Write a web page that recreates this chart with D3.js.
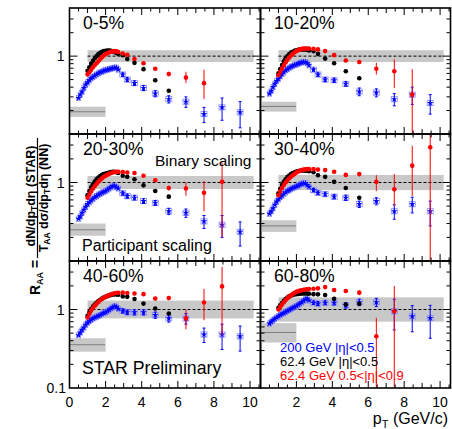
<!DOCTYPE html>
<html><head><meta charset="utf-8">
<script src="https://cdn.jsdelivr.net/npm/d3@7"></script>
<style>
body{margin:0;background:#fff}
text{font-family:"Liberation Sans",Arial,Helvetica,sans-serif}
</style>
</head><body>
<svg id="chart" width="452" height="429"></svg>
<script>
// ---------------- data ----------------
const centralities = ["0-5%","10-20%","20-30%","30-40%","40-60%","60-80%"];
const ptBlueLow = [0.5,0.6,0.7,0.8,0.9,1.0,1.1,1.2,1.3,1.4,1.5,1.6,1.7,1.8,1.9,2.0,2.1,2.2,2.3,2.4,2.5,2.6,2.7];
const ptRBLow = [1.0,1.1,1.2,1.3,1.4,1.5,1.6,1.7,1.8,1.9,2.0,2.1,2.2,2.3,2.4,2.5,2.6,2.7];
const ptHigh = [2.95,3.2,3.6,4.1,4.75,5.5,6.45,7.45,8.45,9.45];

// 200 GeV |eta|<0.5 (blue stars)
const blueLow = [
 [0.29,0.32,0.35,0.39,0.43,0.46,0.49,0.52,0.54,0.56,0.58,0.60,0.62,0.63,0.65,0.66,0.67,0.68,0.69,0.70,0.71,0.71,0.67],
 [0.33,0.36,0.40,0.44,0.48,0.51,0.55,0.59,0.62,0.66,0.68,0.71,0.73,0.75,0.77,0.78,0.80,0.82,0.83,0.84,0.84,0.81,0.76],
 [0.345,0.37,0.41,0.45,0.49,0.53,0.56,0.59,0.62,0.65,0.67,0.70,0.72,0.74,0.76,0.78,0.81,0.84,0.87,0.90,0.91,0.87,0.84],
 [0.40,0.43,0.47,0.52,0.57,0.61,0.65,0.68,0.72,0.75,0.78,0.80,0.83,0.85,0.87,0.89,0.91,0.94,0.96,0.98,0.98,0.93,0.88],
 [0.47,0.51,0.55,0.59,0.64,0.68,0.71,0.74,0.77,0.79,0.81,0.83,0.85,0.88,0.90,0.92,0.95,0.99,1.03,1.07,1.10,1.08,1.02],
 [0.66,0.70,0.73,0.76,0.79,0.82,0.85,0.88,0.90,0.93,0.96,0.99,1.02,1.05,1.08,1.11,1.15,1.19,1.24,1.29,1.35,1.38,1.30]
];
const blueHigh = [
 [0.58,0.50,0.45,0.39,0.33,0.28,0.26,0.18,0.22,0.19],
 [0.67,0.58,0.50,0.49,0.44,0.35,0.34,0.28,0.32,0.25],
 [0.73,0.67,0.64,0.58,0.55,0.43,0.41,0.32,0.29,0.235],
 [0.80,0.74,0.71,0.66,0.64,0.53,0.58,0.43,0.53,0.43],
 [0.96,0.92,0.92,0.92,0.85,0.77,0.77,0.48,0.48,0.455],
 [1.22,1.19,1.22,1.22,1.13,1.24,1.24,0.95,0.82,0.78]
];
const blueHighErr = [
 [0.03,0.03,0.03,0.03,0.03,0.03,0.04,0.04,0.07,0.07],
 [0.03,0.03,0.03,0.03,0.03,0.04,0.04,0.05,0.08,0.07],
 [0.04,0.04,0.04,0.04,0.04,0.04,0.05,0.06,0.09,0.08],
 [0.04,0.04,0.04,0.04,0.05,0.05,0.06,0.09,0.12,0.15],
 [0.06,0.06,0.07,0.07,0.08,0.08,0.12,0.10,0.17,0.16],
 [0.06,0.07,0.07,0.08,0.09,0.12,0.15,0.40,0.30,0.35]
];
// 62.4 GeV |eta|<0.5 (black circles)
const blackLow = [
 [0.65,0.72,0.80,0.87,0.94,1.00,1.06,1.10,1.14,1.16,1.17,1.18,1.18,1.17,1.15,1.13,1.10,1.07],
 [0.60,0.68,0.77,0.86,0.94,1.00,1.06,1.11,1.14,1.17,1.19,1.21,1.22,1.22,1.22,1.22,1.21,1.18],
 [0.69,0.78,0.87,0.95,1.03,1.10,1.16,1.21,1.25,1.28,1.30,1.32,1.34,1.36,1.37,1.37,1.35,1.32],
 [0.73,0.83,0.93,1.02,1.10,1.17,1.23,1.28,1.32,1.35,1.38,1.40,1.41,1.42,1.42,1.41,1.41,1.39],
 [0.83,0.92,1.01,1.09,1.16,1.22,1.28,1.33,1.38,1.42,1.45,1.48,1.51,1.53,1.55,1.56,1.56,1.54],
 [1.05,1.13,1.21,1.29,1.36,1.42,1.47,1.51,1.54,1.56,1.57,1.58,1.59,1.60,1.60,1.60,1.60,1.59]
];
const blackHigh = [
 [1.03,0.92,0.82,0.68,0.49,0.36],
 [1.16,1.07,0.93,0.81,0.64,0.52],
 [1.22,1.18,1.10,0.92,0.78,0.66],
 [1.35,1.24,1.18,1.02,0.85,0.64],
 [1.47,1.45,1.36,1.19,1.03,0.89],
 [1.57,1.56,1.53,1.37,1.16,1.18]
];
// 62.4 GeV 0.5<|eta|<0.9 (red circles)
const redLow = [
 [0.58,0.62,0.67,0.72,0.77,0.81,0.86,0.92,0.97,1.02,1.06,1.09,1.12,1.14,1.15,1.16,1.15,1.13],
 [0.57,0.63,0.69,0.76,0.83,0.90,0.96,1.02,1.07,1.12,1.16,1.19,1.22,1.24,1.25,1.25,1.25,1.25],
 [0.64,0.70,0.77,0.84,0.90,0.96,1.02,1.08,1.13,1.18,1.22,1.26,1.29,1.32,1.34,1.36,1.37,1.37],
 [0.69,0.77,0.85,0.93,1.00,1.07,1.13,1.19,1.24,1.29,1.34,1.38,1.41,1.44,1.46,1.47,1.48,1.48],
 [0.79,0.88,0.97,1.05,1.12,1.18,1.25,1.31,1.36,1.41,1.45,1.49,1.53,1.56,1.59,1.61,1.62,1.63],
 [1.00,1.08,1.16,1.24,1.32,1.39,1.46,1.52,1.58,1.63,1.68,1.71,1.74,1.76,1.78,1.80,1.81,1.82]
];
const redHigh = [
 [1.08,1.04,0.92,0.81,0.69,0.59,0.53,0.45,null,null],
 [1.24,1.22,1.16,1.03,0.88,0.84,0.69,0.64,0.32,null],
 [1.36,1.34,1.32,1.22,1.07,0.85,0.84,0.74,1.02,null],
 [1.48,1.46,1.44,1.37,1.25,1.28,1.02,0.82,1.64,2.81],
 [1.65,1.62,1.60,1.57,1.38,1.40,0.77,1.23,1.97,null],
 [1.84,1.86,1.93,1.77,1.72,1.64,0.455,0.95,null,null]
];
const redErrUp = [
 [0.03,0.03,0.03,0.03,0.03,0.04,0.10,0.22,null,null],
 [0.03,0.03,0.03,0.04,0.04,0.05,0.13,0.27,0.36,null],
 [0.03,0.03,0.03,0.04,0.05,0.06,0.16,0.31,0.78,null],
 [0.03,0.03,0.03,0.04,0.06,0.08,0.22,0.46,1.30,2.00],
 [0.04,0.04,0.04,0.05,0.07,0.09,0.23,0.60,1.50,null],
 [0.04,0.04,0.06,0.07,0.10,0.12,0.33,1.04,null,null]
];
const redErrDown = [
 [0.03,0.03,0.03,0.03,0.03,0.04,0.08,0.17,null,null],
 [0.03,0.03,0.03,0.04,0.04,0.05,0.11,0.25,0.32,null],
 [0.03,0.03,0.03,0.04,0.05,0.06,0.16,0.31,0.82,null],
 [0.03,0.03,0.03,0.04,0.06,0.08,0.24,0.32,0.97,2.80],
 [0.04,0.04,0.04,0.05,0.07,0.09,0.21,0.50,1.50,null],
 [0.04,0.04,0.06,0.07,0.10,0.12,0.40,0.95,null,null]
];
// scaling references
const binaryBandLo = [0.84,0.84,0.826,0.80,0.77,0.70];
const binaryBandHi = [1.19,1.19,1.21,1.25,1.30,1.43];
const participantLevel = [0.193,0.226,0.25,0.28,0.356,0.51];
const participantBandLo = [0.166,0.194,0.21,0.235,0.29,0.38];
const participantBandHi = [0.224,0.26,0.30,0.33,0.43,0.67];
const xTickLabels = [0,2,4,6,8,10];
const legendLabels = ["200 GeV |\u03b7|<0.5","62.4 GeV |\u03b7|<0.5","62.4 GeV 0.5<|\u03b7|<0.9"];
const legendColors = ["#0000ff","#000000","#ff0000"];

// ---------------- layout ----------------
const svg = d3.select("#chart");
const colX = [[69.5,260.5],[260.5,450.5]];
const rowY = [[8,134],[134,261],[261,388]];
const yDomain = [0.1,4.15];
const xDomain = [0,10.58];
const BLUE="#0000ff", RED="#ff0000";

const defs = svg.append("defs");

centralities.forEach((cent,i)=>{
  const col = i%2, row = Math.floor(i/2);
  const [x0,x1] = colX[col], [y0,y1] = rowY[row];
  const x = d3.scaleLinear().domain(xDomain).range([x0,x1]);
  const y = d3.scaleLog().domain(yDomain).range([y1,y0]);
  const cid = "clip"+i;
  defs.append("clipPath").attr("id",cid).append("rect")
    .attr("x",x0).attr("y",y0).attr("width",x1-x0).attr("height",y1-y0);
  const g = svg.append("g");
  const gc = g.append("g").attr("clip-path",`url(#${cid})`);

  // binary scaling band
  gc.append("rect").attr("x",x(1)).attr("width",x(10.2)-x(1))
    .attr("y",y(binaryBandHi[i])).attr("height",y(binaryBandLo[i])-y(binaryBandHi[i]))
    .attr("fill","#c8c8c8");
  gc.append("line").attr("x1",x(1)).attr("x2",x(10.2)).attr("y1",y(1)).attr("y2",y(1))
    .attr("stroke","#000").attr("stroke-width",1).attr("stroke-dasharray","3,2");
  // participant scaling band
  gc.append("rect").attr("x",x(0)).attr("width",x(2)-x(0))
    .attr("y",y(participantBandHi[i])).attr("height",y(participantBandLo[i])-y(participantBandHi[i]))
    .attr("fill","#c8c8c8");
  gc.append("line").attr("x1",x(0)).attr("x2",x(2)).attr("y1",y(participantLevel[i])).attr("y2",y(participantLevel[i]))
    .attr("stroke","#333").attr("stroke-width",1).attr("stroke-dasharray","1,1");

  // blue series
  const blue = ptBlueLow.map((p,k)=>({p,v:blueLow[i][k],e:0.02,low:true}))
    .concat(ptHigh.map((p,k)=>({p,v:blueHigh[i][k],e:blueHighErr[i][k],low:false})));
  // systematic boxes
  gc.selectAll(null).data(blue).join("rect")
    .attr("x",d=>x(d.p)-(d.low?2:3)).attr("width",d=>d.low?4:6)
    .attr("y",d=>y(d.v*1.08)).attr("height",d=>y(d.v/1.08)-y(d.v*1.08))
    .attr("fill","none").attr("stroke","#8c8cff").attr("stroke-width",0.8);
  gc.selectAll(null).data(blue.filter(d=>!d.low)).join("path")
    .attr("d",d=>{const a=y(d.v+d.e), b=y(Math.max(d.v-d.e,0.05)), xx=x(d.p);
      return `M${xx},${a}V${b}M${xx-1.5},${a}H${xx+1.5}M${xx-1.5},${b}H${xx+1.5}`;})
    .attr("stroke",BLUE).attr("stroke-width",1).attr("fill","none");
  gc.selectAll(null).data(blue).join("path")
    .attr("d",d3.symbol(d3.symbolStar,13)())
    .attr("transform",d=>`translate(${x(d.p)},${y(d.v)})`)
    .attr("fill",BLUE);

  // black series
  const black = ptRBLow.map((p,k)=>({p,v:blackLow[i][k]}))
    .concat(blackHigh[i].map((v,k)=>({p:ptHigh[k],v})));
  gc.selectAll(null).data(black).join("circle")
    .attr("cx",d=>x(d.p)).attr("cy",d=>y(d.v)).attr("r",2.3).attr("fill","#000");

  // red series
  const red = ptRBLow.map((p,k)=>({p,v:redLow[i][k],up:0,dn:0}))
    .concat(ptHigh.map((p,k)=>({p,v:redHigh[i][k],up:redErrUp[i][k],dn:redErrDown[i][k]})))
    .filter(d=>d.v!==null);
  gc.selectAll(null).data(red.filter(d=>d.up>0)).join("line")
    .attr("x1",d=>x(d.p)).attr("x2",d=>x(d.p))
    .attr("y1",d=>y(d.v+d.up)).attr("y2",d=>y(Math.max(d.v-d.dn,0.05)))
    .attr("stroke",RED).attr("stroke-width",1);
  gc.selectAll(null).data(red).join("circle")
    .attr("cx",d=>x(d.p)).attr("cy",d=>y(d.v)).attr("r",2.3).attr("fill",RED);

  // frame
  g.append("rect").attr("x",x0).attr("y",y0).attr("width",x1-x0).attr("height",y1-y0)
    .attr("fill","none").attr("stroke","#000").attr("stroke-width",1.6);

  // x ticks (bottom & top, inward)
  const xt = d3.range(0,10.51,0.5);
  xt.forEach(t=>{
    const len = (Math.abs(t%2)<1e-6)?7:(Math.abs(t%1)<1e-6?5:3.5);
    g.append("line").attr("x1",x(t)).attr("x2",x(t)).attr("y1",y1).attr("y2",y1-len).attr("stroke","#000").attr("stroke-width",1);
    g.append("line").attr("x1",x(t)).attr("x2",x(t)).attr("y1",y0).attr("y2",y0+len).attr("stroke","#000").attr("stroke-width",1);
  });
  // y ticks (left & right, inward)
  const yt = [0.2,0.3,0.4,0.5,0.6,0.7,0.8,0.9,1,2,3];
  yt.forEach(t=>{
    const len = t===1?8:4;
    g.append("line").attr("x1",x0).attr("x2",x0+len).attr("y1",y(t)).attr("y2",y(t)).attr("stroke","#000").attr("stroke-width",1);
    g.append("line").attr("x1",x1).attr("x2",x1-len).attr("y1",y(t)).attr("y2",y(t)).attr("stroke","#000").attr("stroke-width",1);
  });

  // y tick labels (left column)
  if(col===0){
    g.append("text").attr("x",64.5).attr("y",y(1)+5).attr("text-anchor","end")
      .attr("font-size",14).text("1");
    if(row===2) g.append("text").attr("x",66).attr("y",y(0.1)+5).attr("text-anchor","end")
      .attr("font-size",14).text("0.1");
  }
  // x tick labels (bottom row)
  if(row===2){
    xTickLabels.forEach(t=>{
      if(col===1 && t===0) return;
      g.append("text").attr("x",x(t)).attr("y",406.5).attr("text-anchor","middle")
        .attr("font-size",14).text(t);
    });
  }
  // centrality label
  g.append("text").attr("x",x0+13.5).attr("y",y0+20.5).attr("font-size",17.6).text(cent);
});

// annotations
svg.append("text").attr("x",155).attr("y",166).attr("font-size",15.5).text("Binary scaling");
svg.append("text").attr("x",82).attr("y",251).attr("font-size",16).text("Participant scaling");
svg.append("text").attr("x",82).attr("y",373.5).attr("font-size",17.7).text("STAR Preliminary");

// legend
legendLabels.forEach((l,k)=>{
  svg.append("text").attr("x",280).attr("y",351.5+k*14.3).attr("font-size",13)
    .attr("fill",legendColors[k]).text(l);
});

// x axis title
const xt = svg.append("text").attr("x",448).attr("y",424).attr("text-anchor","end").attr("font-size",16);
xt.append("tspan").text("p");
xt.append("tspan").attr("font-size",11).attr("dy",4).text("T");
xt.append("tspan").attr("dy",-4).text(" (GeV/c)");

// y axis title (rotated)
const yg = svg.append("g").attr("transform","translate(0,0) rotate(-90)");
// R_AA =
const r = yg.append("text").attr("x",-295).attr("y",40).attr("font-size",14).attr("font-weight","bold");
r.append("tspan").text("R");
r.append("tspan").attr("font-size",9).attr("dy",3).text("AA");
r.append("tspan").attr("dy",-3).text(" =");
// fraction
yg.append("line").attr("x1",-258).attr("x2",-138).attr("y1",37.5).attr("y2",37.5).attr("stroke","#000").attr("stroke-width",1.2);
const num = yg.append("text").attr("x",-196).attr("y",34.5).attr("text-anchor","middle").attr("font-size",12.5).attr("font-weight","bold");
num.append("tspan").text("dN/dp");
num.append("tspan").attr("font-size",8.5).attr("dy",2.5).text("T");
num.append("tspan").attr("dy",-2.5).text("d\u03b7 (STAR)");
const den = yg.append("text").attr("x",-198).attr("y",47.5).attr("text-anchor","middle").attr("font-size",12.5).attr("font-weight","bold");
den.append("tspan").text("T");
den.append("tspan").attr("font-size",8.5).attr("dy",2.5).text("AA");
den.append("tspan").attr("dy",-2.5).text(" d\u03c3/dp");
den.append("tspan").attr("font-size",8.5).attr("dy",2.5).text("T");
den.append("tspan").attr("dy",-2.5).text("d\u03b7 (NN)");
</script>
</body></html>
